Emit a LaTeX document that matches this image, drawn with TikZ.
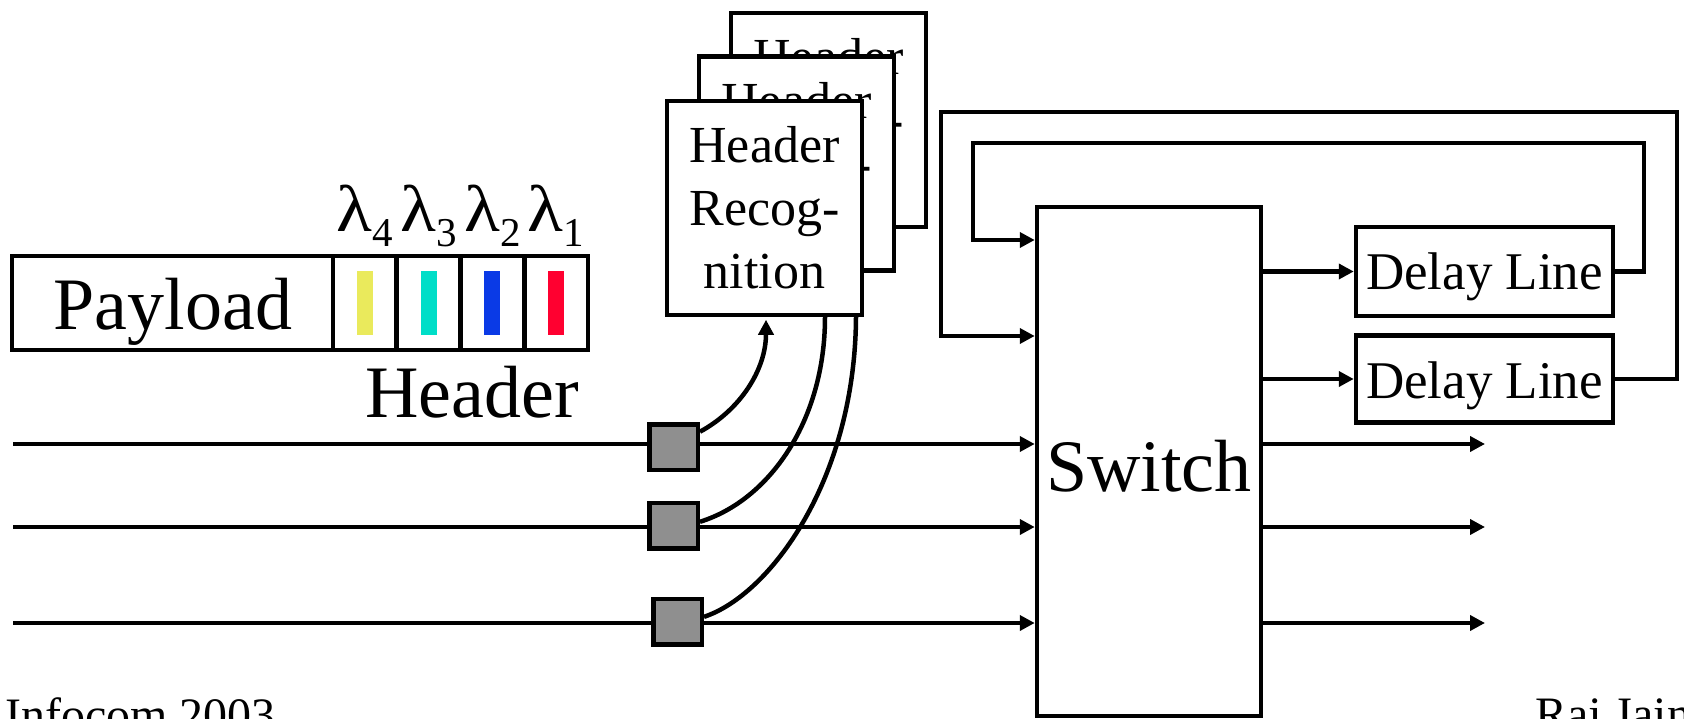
\documentclass[tikz,border=0pt]{standalone}
\usepackage{graphicx}
\usepackage{fontspec}
\setmainfont{Liberation Serif}
\usetikzlibrary{arrows.meta,calc}
\definecolor{barY}{HTML}{EAEA5C}
\definecolor{barC}{HTML}{00DEC8}
\definecolor{barB}{HTML}{0A3AE6}
\definecolor{barR}{HTML}{FF0030}
\definecolor{sqgray}{HTML}{8F8F8F}
\newcommand{\lamsub}[1]{\scalebox{1.12}[1]{λ}\raisebox{-15pt}{\fontsize{41}{44}\selectfont #1}}
\begin{document}
\begin{tikzpicture}[x=1pt,y=-1pt,line width=4.5pt,
  cell/.style={draw,line width=4.5pt,inner sep=0pt,minimum height=94pt},
  bar/.style={draw=none,inner sep=0pt,minimum width=16pt,minimum height=63pt},
  big/.style={inner sep=0pt,anchor=base,font=\fontsize{74}{80}\selectfont},
  mid/.style={inner sep=0pt,anchor=base,font=\fontsize{53}{60}\selectfont},
  lam/.style={inner sep=0pt,anchor=base,font=\fontsize{66}{70}\selectfont},
  foot/.style={inner sep=0pt,anchor=base west,font=\fontsize{48}{52}\selectfont},
  blk/.style={draw,line width=4.5pt,inner sep=0pt},
  hrbox/.style={draw,fill=white,line width=4.5pt,inner sep=0pt,minimum width=195pt,minimum height=214pt,align=center,font=\fontsize{52}{63}\selectfont},
  sqbox/.style={draw,fill=sqgray,line width=4.5pt,inner sep=0pt,minimum width=48.5pt,minimum height=45.5pt},
  arr/.style={-{Triangle[length=15pt,width=15pt]}},
  wire/.style={line width=4.5pt}]
\useasboundingbox (0,0) rectangle (1684,719);
% packet
\node[cell,minimum width=321pt] (pay) at (172.5,303) {};
\node[cell,minimum width=63.75pt] (c4) at (364.9,303) {};
\node[cell,minimum width=63.75pt] (c3) at (428.6,303) {};
\node[cell,minimum width=63.75pt] (c2) at (492.4,303) {};
\node[cell,minimum width=63.75pt] (c1) at (556.1,303) {};
\node[bar,fill=barY] (b4) at (c4) {};
\node[bar,fill=barC] (b3) at (c3) {};
\node[bar,fill=barB] (b2) at (c2) {};
\node[bar,fill=barR] (b1) at (c1) {};
\node[big] (paytxt) at (173,330) {Payload};
\node[big] (hdrtxt) at (472,417) {Header};
\node[lam] (l4) at (364.9,232) {\lamsub{4}};
\node[lam] (l3) at (428.6,232) {\lamsub{3}};
\node[lam] (l2) at (492.4,232) {\lamsub{2}};
\node[lam] (l1) at (556.1,232) {\lamsub{1}};
% switch and delay lines
\node[blk,minimum width=224pt,minimum height=509pt] (sw) at (1149,461.5) {};
\node[big] (swtxt) at (1149,491) {Switch};
\node[blk,minimum width=257pt,minimum height=89pt] (dl1) at (1484.5,271.5) {};
\node[blk,minimum width=257pt,minimum height=87pt] (dl2) at (1484.5,379) {};
\node[mid] (dl1txt) at (1484.5,290) {Delay Line};
\node[mid] (dl2txt) at (1484.5,398) {Delay Line};
\draw[wire,arr] (sw.east |- dl1.west) -- (dl1.west);
\draw[wire,arr] (sw.east |- dl2.west) -- (dl2.west);
\coordinate (lp1) at (973,240);
\coordinate (lp2) at (941,336);
\draw[wire,arr] (dl1.east) -| (1644,143) -| (lp1) -- (lp1 -| sw.west);
\draw[wire,arr] (dl2.east) -| (1677,112) -| (lp2) -- (lp2 -| sw.west);
% outputs
\coordinate (o1) at (1485,444);
\coordinate (o2) at (1485,527);
\coordinate (o3) at (1485,623);
\draw[wire,arr] (sw.east |- o1) -- (o1);
\draw[wire,arr] (sw.east |- o2) -- (o2);
\draw[wire,arr] (sw.east |- o3) -- (o3);
% header recognition stack
\node[hrbox] (hr3) at (828.5,120) {Header\\Recog-\\nition};
\node[hrbox] (hr2) at (796.5,163.5) {Header\\Recog-\\nition};
% inputs
\coordinate (i1) at (13,444);
\coordinate (i2) at (13,527);
\coordinate (i3) at (13,623);
\draw[wire,arr] (i1) -- (i1 -| sw.west);
\draw[wire,arr] (i2) -- (i2 -| sw.west);
\draw[wire,arr] (i3) -- (i3 -| sw.west);
\node[sqbox] (sq1) at (673.5,447) {};
\node[sqbox] (sq2) at (673.5,525.5) {};
\node[sqbox] (sq3) at (677.5,621.5) {};
\draw[wire] (sq2.8) .. controls (770,500) and (825,420) .. (825,317) -- ($(hr2.south)+(28.5,0)$);
\draw[wire] (sq3.10) .. controls (770,595) and (855,480) .. (856,317) -- ($(hr3.south)+(27.5,0)$);
\node[hrbox] (hr1) at (764.5,208) {Header\\Recog-\\nition};
\draw[wire,arr] (sq1.30) .. controls (740,410) and (766,370) .. ($(hr1.south)+(1.5,2.5)$);
% footer
\node[foot] (ft1) at (3,731) {Infocom 2003};
\node[foot] (ft2) at (1533,730) {Raj Jain};
\end{tikzpicture}
\end{document}
